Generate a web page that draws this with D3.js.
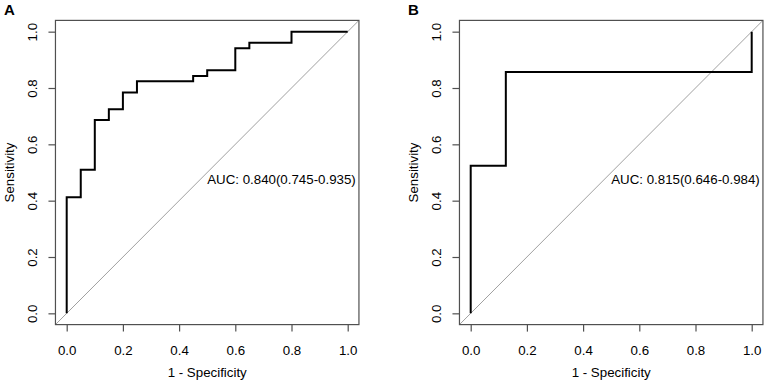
<!DOCTYPE html>
<html>
<head>
<meta charset="utf-8">
<script src="https://cdn.jsdelivr.net/npm/d3@7"></script>
<style>
    body { margin: 0; background: white; }
    svg { display: block; font-family: "Liberation Sans", Arial, sans-serif; }
</style>
</head>
<body>
<div id="chart"></div>
<script>

// ROC curves, two panels

// panel A
let rocA_fpr = [0, 0, 0.05, 0.10, 0.15, 0.20, 0.25, 0.45, 0.50, 0.60, 0.65, 0.80, 1.00];
let rocA_tpr = [0, 0.412, 0.510, 0.686, 0.725, 0.784, 0.824, 0.843, 0.863, 0.941, 0.961, 1.00, 1.00];
let rocA_auc = 'AUC: 0.840(0.745-0.935)';

// panel B
let rocB_fpr = [0, 0, 0.125, 1.00, 1.00];
let rocB_tpr = [0, 0.524, 0.857, 0.857, 1.00];
let rocB_auc = 'AUC: 0.815(0.646-0.984)';

let tickValues = [0, 0.2, 0.4, 0.6, 0.8, 1.0];
let panelLabels = ['A', 'B'];
let xTitle = '1 - Specificity';
let yTitle = 'Sensitivity';


class RocChart {

    constructor(svg, offsetX, label, fpr, tpr, aucText) {
        this.svg = svg;
        this.offsetX = offsetX;
        this.label = label;
        this.data = fpr.map((d, i) => ({fpr: d, tpr: tpr[i]}));
        this.aucText = aucText;

        this.initVis();
    }

    initVis() {
        let vis = this;

        vis.g = vis.svg.append('g')
            .attr('transform', `translate(${vis.offsetX}, 0)`);

        // R style 4% padding around 0..1
        vis.xScale = d3.scaleLinear()
            .domain([-0.04, 1.04])
            .range([55.46, 358.94]);

        vis.yScale = d3.scaleLinear()
            .domain([-0.04, 1.04])
            .range([324.6, 20.4]);

        vis.x0 = vis.xScale(-0.04);
        vis.x1 = vis.xScale(1.04);
        vis.y0 = vis.yScale(-0.04);
        vis.y1 = vis.yScale(1.04);

        let clipId = 'clip-' + vis.label;
        vis.g.append('clipPath')
            .attr('id', clipId)
            .append('rect')
            .attr('x', vis.x0)
            .attr('y', vis.y1)
            .attr('width', vis.x1 - vis.x0)
            .attr('height', vis.y0 - vis.y1);

        // diagonal reference line
        vis.g.append('line')
            .attr('clip-path', `url(#${clipId})`)
            .attr('x1', vis.xScale(-0.04))
            .attr('y1', vis.yScale(-0.04))
            .attr('x2', vis.xScale(1.04))
            .attr('y2', vis.yScale(1.04))
            .attr('stroke', '#a0a0a0')
            .attr('stroke-width', 1);

        // roc curve
        let line = d3.line()
            .x(d => vis.xScale(d.fpr))
            .y(d => vis.yScale(d.tpr))
            .curve(d3.curveStepAfter);

        vis.g.append('path')
            .datum(vis.data)
            .attr('d', line)
            .attr('fill', 'none')
            .attr('stroke', 'black')
            .attr('stroke-width', 2);

        // box
        vis.g.append('rect')
            .attr('x', vis.x0)
            .attr('y', vis.y1)
            .attr('width', vis.x1 - vis.x0)
            .attr('height', vis.y0 - vis.y1)
            .attr('fill', 'none')
            .attr('stroke', '#505050')
            .attr('stroke-width', 1.2);

        // axes
        let xAxis = d3.axisBottom(vis.xScale)
            .tickValues(tickValues)
            .tickFormat(d3.format('.1f'))
            .tickSize(7)
            .tickPadding(14);

        let yAxis = d3.axisLeft(vis.yScale)
            .tickValues(tickValues)
            .tickFormat(d3.format('.1f'))
            .tickSize(7);

        let xAxisGroup = vis.g.append('g')
            .attr('transform', `translate(0, ${vis.y0})`)
            .call(xAxis);

        let yAxisGroup = vis.g.append('g')
            .attr('transform', `translate(${vis.x0}, 0)`)
            .call(yAxis);

        [xAxisGroup, yAxisGroup].forEach(ag => {
            ag.select('.domain').remove();
            ag.attr('font-family', null).attr('font-size', null);
            ag.selectAll('line').attr('stroke', '#505050').attr('stroke-width', 1.2);
            ag.selectAll('text')
                .style('font-size', '13.3px')
                .attr('fill', 'black');
        });

        // y tick labels turned like R
        yAxisGroup.selectAll('text')
            .attr('x', null)
            .attr('dy', null)
            .attr('text-anchor', 'middle')
            .attr('transform', 'translate(-18.2, 0) rotate(-90)');

        // axis titles
        vis.g.append('text')
            .attr('x', (vis.x0 + vis.x1) / 2)
            .attr('y', 377)
            .attr('text-anchor', 'middle')
            .style('font-size', '13.3px')
            .text(xTitle);

        vis.g.append('text')
            .attr('transform', `translate(13.5, ${(vis.y0 + vis.y1) / 2}) rotate(-90)`)
            .attr('text-anchor', 'middle')
            .style('font-size', '13.3px')
            .text(yTitle);

        // auc label
        vis.g.append('text')
            .attr('x', vis.xScale(0.5))
            .attr('y', vis.yScale(0.5))
            .attr('dy', '0.85em')
            .style('font-size', '13.3px')
            .text(vis.aucText);

        // panel letter
        vis.g.append('text')
            .attr('x', 4)
            .attr('y', 15)
            .style('font-size', '15px')
            .style('font-weight', 'bold')
            .text(vis.label);
    }
}


let svg = d3.select('#chart').append('svg')
    .attr('width', 765)
    .attr('height', 383);

new RocChart(svg, 0, panelLabels[0], rocA_fpr, rocA_tpr, rocA_auc);
new RocChart(svg, 404, panelLabels[1], rocB_fpr, rocB_tpr, rocB_auc);

</script>
</body>
</html>
